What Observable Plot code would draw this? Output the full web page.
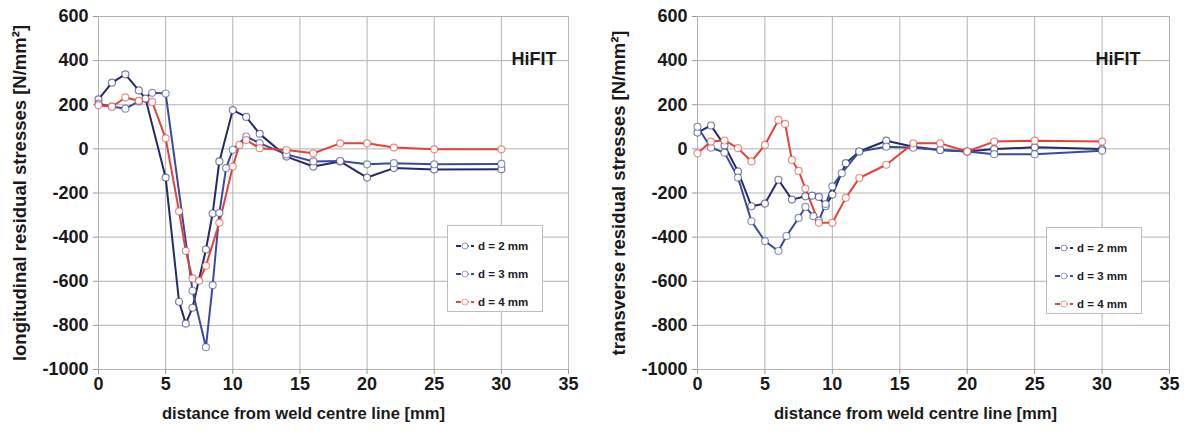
<!DOCTYPE html>
<html><head><meta charset="utf-8">
<script src="https://cdn.jsdelivr.net/npm/d3@7"></script>
<script src="https://cdn.jsdelivr.net/npm/@observablehq/plot@0.6"></script>
<style>
body{margin:0;background:#fff;}
#wrap{position:relative;width:1190px;height:436px;display:flex;}
#wrap svg{flex:none;}
.legend{position:absolute;border:1px solid #bdbdbd;background:#fff;font:bold 11.5px "Liberation Sans",Arial,sans-serif;color:#222;box-sizing:border-box;padding-top:6px;}
.legend div{height:28px;display:flex;align-items:center;padding-left:8px;}
.legend svg{margin-right:4px;}
</style></head><body><div id="wrap"></div>
<script>
const seriesNames = ["d = 2 mm", "d = 3 mm", "d = 4 mm"];
const seriesColors = ["#262a6b", "#3a4b9c", "#e2433b"];
const xTicks = [0, 5, 10, 15, 20, 25, 30, 35];
const yTicks = [-1000, -800, -600, -400, -200, 0, 200, 400, 600];
const chartTag = "HiFIT";
const xTitle = "distance from weld centre line [mm]";
const yTitleLong = "longitudinal residual stresses [N/mm²]";
const yTitleTrans = "transverse residual stresses [N/mm²]";

// longitudinal residual stresses
const longD2 = [[0,224],[1,300],[2,338],[3,265],[3.5,228],[5,-130],[6,-693],[6.5,-792],[7,-720],[8,-456],[8.5,-293],[9,-57],[10,176],[11,145],[12,68],[14,-35],[16,-80],[18,-57],[20,-130],[22,-87],[25,-93],[30,-92]];
const longD3 = [[0,205],[1,192],[2,182],[3,215],[4,254],[5,251],[7,-643],[8,-899],[8.5,-618],[9,-290],[9.5,-87],[10,-4],[11,56],[12,26],[14,-25],[16,-57],[18,-55],[20,-70],[22,-65],[25,-70],[30,-68]];
const longD4 = [[0,198],[1,191],[2,233],[3,218],[4,213],[5,48],[6,-283],[6.5,-463],[7,-587],[7.5,-598],[8,-530],[9,-335],[10,-80],[10.5,18],[11,40],[12,3],[14,-5],[16,-20],[18,25],[20,25],[22,6],[25,-2],[30,-2]];

// transverse residual stresses
const transD2 = [[0,74],[1,106],[2,15],[3,-102],[4,-260],[5,-248],[6,-140],[7,-230],[8,-215],[8.5,-212],[9,-218],[9.5,-260],[10,-207],[11,-65],[12,-12],[14,37],[16,10],[18,-5],[20,-12],[22,-1],[25,7],[30,-1]];
const transD3 = [[0,100],[1,5],[2,-17],[3,-130],[4,-328],[5,-418],[6,-463],[6.6,-395],[7.5,-313],[8,-263],[8.6,-305],[9,-325],[9.5,-250],[10,-170],[10.7,-110],[12,-12],[14,10],[16,5],[18,-5],[20,-12],[22,-24],[25,-24],[30,-8]];
const transD4 = [[0,-20],[1,33],[2,38],[3,3],[4,-57],[5,18],[6,131],[6.5,113],[7,-50],[7.5,-100],[8,-180],[9,-335],[10,-335],[11,-222],[12,-132],[14,-72],[16,25],[18,25],[20,-12],[22,33],[25,37],[30,33]];

const font = '"Liberation Sans", Arial, sans-serif';
const fmt = d => String(d);

function chart(series, yTitle, ml, mr, tagDx, xTitleDx) {
  const data = series.flatMap((s, i) => s.map(([x, y]) => ({x, y, s: seriesNames[i]})));
  return Plot.plot({
    width: 595, height: 436,
    marginLeft: ml, marginRight: mr, marginTop: 16, marginBottom: 67,
    style: {fontFamily: font, fontWeight: "bold", fontSize: "18px", color: "#1a1a1a", background: "white"},
    x: {domain: [0, 35]},
    y: {domain: [-1000, 600]},
    color: {domain: seriesNames, range: seriesColors},
    marks: [
      Plot.gridX(xTicks, {stroke: "#b3b3b3", strokeOpacity: 1, strokeWidth: 1}),
      Plot.gridY(yTicks, {stroke: "#b3b3b3", strokeOpacity: 1, strokeWidth: 1}),
      Plot.axisX(xTicks, {tickSize: 5, tickPadding: 3, stroke: "#999", tickFormat: fmt, label: null, fontSize: 18}),
      Plot.axisY(yTicks, {tickSize: 5, tickPadding: 5, stroke: "#999", tickFormat: fmt, label: null, fontSize: 18}),
      Plot.text([xTitle], {frameAnchor: "bottom", lineAnchor: "bottom", dy: 49, dx: xTitleDx, fontSize: 16.6, fontWeight: "bold", fill: "#1a1a1a"}),
      Plot.axisY({ticks: [], label: yTitle, labelAnchor: "center", labelOffset: 86, labelArrow: "none", fontSize: 18.5}),
      Plot.line(data, {x: "x", y: "y", stroke: "s", strokeWidth: 2}),
      Plot.dot(data, {x: "x", y: "y", stroke: "s", fill: "white", r: 3.5, strokeWidth: 1.2, strokeOpacity: 0.6}),
      Plot.text([chartTag], {frameAnchor: "top-right", dx: tagDx, dy: 36, fontSize: 18, fontWeight: "bold", fill: "#1a1a1a"})
    ]
  });
}

const wrap = document.getElementById("wrap");
wrap.append(chart([longD2, longD3, longD4], yTitleLong, 98, 27, -12, -30));
wrap.append(chart([transD2, transD3, transD4], yTitleTrans, 102, 21, -29, -18));

function legend(left, top) {
  const box = document.createElement("div");
  box.className = "legend";
  box.style.left = left + "px";
  box.style.top = top + "px";
  box.style.width = "96px";
  box.style.height = "87px";
  seriesNames.forEach((n, i) => {
    const row = document.createElement("div");
    const c = seriesColors[i];
    row.innerHTML = `<svg width="18" height="8"><line x1="0" y1="4" x2="18" y2="4" stroke="${c}" stroke-width="2" stroke-dasharray="5 2.5"/><circle cx="9" cy="4" r="3" fill="white" stroke="${c}" stroke-opacity="0.5"/></svg>${n}`;
    box.append(row);
  });
  wrap.append(box);
}
legend(447, 225);
legend(1046, 227);
</script></body></html>
